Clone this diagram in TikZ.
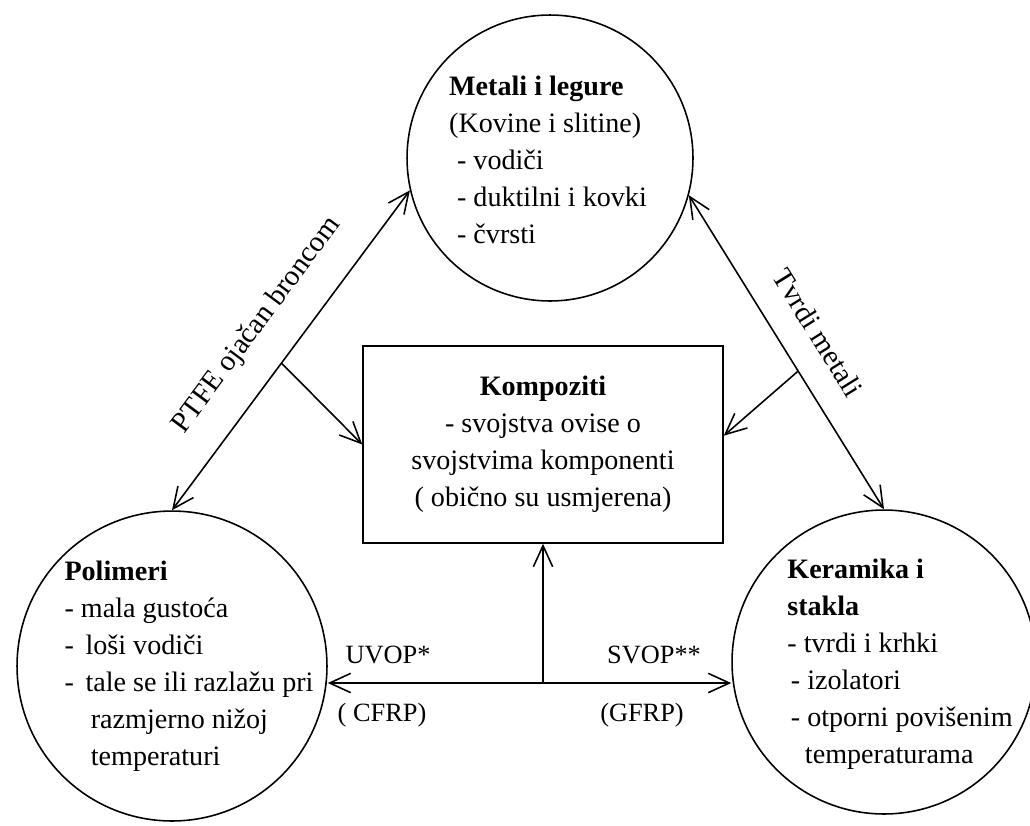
\documentclass[tikz,border=0pt]{standalone}
\usepackage{fontspec}
\setmainfont{Liberation Serif}
\usetikzlibrary{arrows.meta,positioning}

\tikzset{
  circ/.style={circle, draw, line width=0.9pt, inner sep=0pt},
  box/.style={rectangle, draw, line width=0.9pt, align=center,
    minimum width=7.2cm, minimum height=3.94cm,
    font=\fontsize{16pt}{21pt}\selectfont},
  txt/.style={align=left, inner sep=0pt, font=\fontsize{16pt}{21pt}\selectfont},
  lbl/.style={inner sep=0pt, font=\fontsize{15pt}{18pt}\selectfont},
  slbl/.style={inner sep=0pt, sloped, font=\fontsize{16.5pt}{20pt}\selectfont},
  conn/.style={line width=0.9pt},
  >={Straight Barb[length=12pt,width=11pt,line width=0.9pt]}
}

\begin{document}
\begin{tikzpicture}[x=0.02cm, y=-0.02cm]
  \useasboundingbox (0,0) rectangle (1030,825);

  % Metali
  \node[circ, minimum size=5.72cm] (metali) at (550,158) {};
  \node[txt] (metaliTxt) at (548,160) {\textbf{Metali i legure}\\
    (Kovine i slitine)\\
    \hspace*{4.5pt}- vodiči\\
    \hspace*{4.5pt}- duktilni i kovki\\
    \hspace*{4.5pt}- čvrsti};

  % Polimeri
  \node[circ, minimum size=6.2cm] (polimeri) at (172,666) {};
  \node[txt] (polimeriTxt) at (189,666) {\textbf{Polimeri}\\
    - mala gustoća\\
    - \,loši vodiči\\
    - \,tale se ili razlažu pri\\
    \hspace*{15pt}razmjerno nižoj\\
    \hspace*{15pt}temperaturi};

  % Keramika
  \node[circ, minimum size=6.08cm] (keramika) at (884,662) {};
  \node[txt] (keramikaTxt) at (900,664) {\textbf{Keramika i}\\
    \textbf{stakla}\\
    - tvrdi i krhki\\
    \hspace*{2pt}- izolatori\\
    \hspace*{2pt}- otporni povišenim\\
    \hspace*{10pt}temperaturama};

  % Kompoziti
  \node[box] (kompoziti) at (543,444.5) {\textbf{Kompoziti}\\
    - svojstva ovise o\\
    svojstvima komponenti\\
    ( obično su usmjerena)};

  % veze
  \draw[conn, <->] (polimeri.north) -- node[slbl, above=16pt] (ptfe) {PTFE ojačan broncom}
    coordinate[pos=0.46] (lijevo) (metali.193);
  \draw[conn, <->] (metali.-15) -- node[slbl, above=15pt] (tvrdi) {Tvrdi metali}
    coordinate[pos=0.56] (desno) (keramika.north);
  \draw[conn, ->] (lijevo) -- (kompoziti.west);
  \draw[conn, ->] (desno) -- ([yshift=5pt]kompoziti.east);

  \coordinate (dolje) at (543,683);
  \draw[conn, ->] (dolje) -- (dolje -| polimeri.east);
  \draw[conn, ->] (dolje) -- (dolje -| keramika.west);
  \draw[conn, ->] (dolje) -- (kompoziti.south);

  \node[lbl] (uvop) at (388,655) {UVOP*};
  \node[lbl] (cfrp) at (382,715) {( CFRP)};
  \node[lbl] (svop) at (654,655) {SVOP**};
  \node[lbl] (gfrp) at (642,715) {(GFRP)};
\end{tikzpicture}
\end{document}
